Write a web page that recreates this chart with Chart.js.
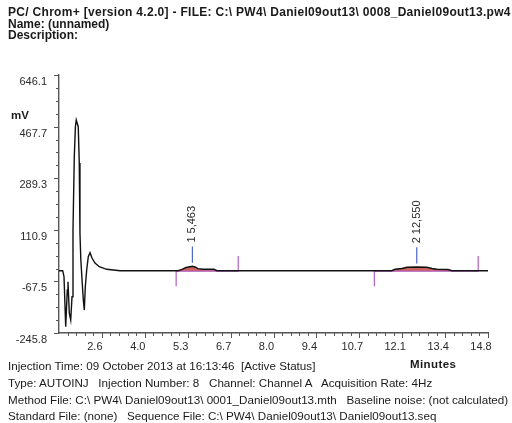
<!DOCTYPE html>
<html>
<head>
<meta charset="utf-8">
<script src="https://cdn.jsdelivr.net/npm/chart.js@4.4.1/dist/chart.umd.min.js"></script>
<style>
  html, body { margin: 0; padding: 0; background: #fff; }
  #wrap { position: relative; width: 512px; height: 423px; overflow: hidden;
          font-family: "Liberation Sans", Arial, sans-serif; color: #1a1a1a; }
  #chart { position: absolute; left: 0; top: 0; }
  .t { position: absolute; white-space: pre; font-size: 11.65px; line-height: 13px; }
  .b { font-weight: bold; }
  .h { font-size: 12px; line-height: 13px; }
</style>
</head>
<body>
<div id="wrap">
  <canvas id="chart" width="512" height="423"></canvas>
  <div class="t b h" style="left:8px;top:6px;letter-spacing:0.3px;">PC/ Chrom+ [version 4.2.0] - FILE: C:\ PW4\ Daniel09out13\ 0008_Daniel09out13.pw4</div>
  <div class="t b h" style="left:8px;top:18px;">Name: (unnamed)</div>
  <div class="t b h" style="left:8px;top:29px;">Description:</div>
  <div class="t b" style="left:11px;top:109px;font-size:11.5px;">mV</div>
  <div class="t b" style="left:410px;top:358px;font-size:11.5px;letter-spacing:0.4px;">Minutes</div>
  <div class="t" style="left:8px;top:359px;">Injection Time: 09 October 2013 at 16:13:46  [Active Status]</div>
  <div class="t" style="left:8px;top:376px;">Type: AUTOINJ   Injection Number: 8   Channel: Channel A   Acquisition Rate: 4Hz</div>
  <div class="t" style="left:8px;top:393px;">Method File: C:\ PW4\ Daniel09out13\ 0001_Daniel09out13.mth   Baseline noise: (not calculated)</div>
  <div class="t" style="left:8px;top:409px;">Standard File: (none)   Sequence File: C:\ PW4\ Daniel09out13\ Daniel09out13.seq</div>
</div>
<script>
// Detector trace, channel A (time in minutes, signal in mV)
const timeMin = [1.25, 1.367, 1.408, 1.462, 1.512, 1.534, 1.575, 1.62, 1.661, 1.692,
                 1.733, 1.768, 1.795, 1.825, 1.858, 1.89, 1.912, 1.94, 1.978, 2.018,
                 2.049, 2.081, 2.125, 2.175, 2.229, 2.292, 2.387, 2.523, 2.757, 3.177,
                 5.009, 5.135, 5.261, 5.388, 5.463, 5.546, 5.64, 5.798, 6.146, 6.24,
                 11.758, 11.863, 12.084, 12.242, 12.55, 12.864, 13.031, 13.189, 13.537, 13.663,
                 14.8];
const signalMv = [-30.4, -30.4, -51.2, -224, -97.1, -68.5, -176.7, -200.9, -120.3, 110.3,
                  363.7, 467.4, 490.5, 479.1, 467.4, 341.9, 99.9, 6.6, -62.6, -131.7,
                  -166.3, -85.7, -28, 18, 31.8, 13.5, -3.8, -16.6, -25.6, -30.4,
                  -30.4, -26, -19.4, -16.6, -15.2, -17.6, -23.5, -25.6, -25.6, -30.4,
                  -30.4, -25.6, -22.8, -18.7, -17.6, -18.7, -22.8, -25.6, -26.3, -30.4,
                  -30.4];

// Integrated peaks
const peakNumbers   = ['1', '2'];
const retentionMin  = [5.463, 12.550];
const retentionText = ['5,463', '12,550'];
const peakStartMin  = [4.95, 11.21];
const peakEndMin    = [6.91, 14.49];
const peakBaseMv    = [-32, -32];

// Axis ranges and labels
const xRange = [1.25, 14.8];
const yRange = [-245.8, 646.1];
const xTickLabels = ['2.6', '4.0', '5.3', '6.7', '8.0', '9.4', '10.7', '12.1', '13.4', '14.8'];
const yTickLabels = ['-245.8', '-67.5', '110.9', '289.3', '467.7', '646.1'];

const X_SUB = 5, Y_SUB = 4;          // minor subdivisions per major interval
const EVENT_TICK = 52;               // length of integration event ticks (mV)
const MARK_GAP = 12, MARK_LEN = 56;  // retention marker offset/length above apex (mV)

const trace = timeMin.map((t, i) => ({ x: t, y: signalMv[i] }));

function buildTicks(range, nMajor, nSub) {
  const step = (range[1] - range[0]) / nMajor / nSub;
  const out = [];
  for (let j = 0; j <= nMajor * nSub; j++) {
    out.push({ value: range[0] + j * step, major: j % nSub === 0, idx: j / nSub });
  }
  return out;
}
const xTicks = buildTicks(xRange, xTickLabels.length, X_SUB).filter(t => t.value > xRange[0] + 1e-9);
const yTicks = buildTicks(yRange, yTickLabels.length - 1, Y_SUB);

const datasets = [{
  label: 'Channel A',
  data: trace,
  showLine: true,
  borderColor: '#111',
  borderWidth: 1.4,
  pointRadius: 0,
  tension: 0,
  order: 0
}];

peakNumbers.forEach((n, p) => {
  // area between the trace and the peak baseline
  datasets.push({
    label: 'area ' + n,
    data: trace.filter(d => d.x >= peakStartMin[p] && d.x <= peakEndMin[p]),
    showLine: true,
    borderWidth: 0,
    borderColor: 'rgba(0,0,0,0)',
    backgroundColor: 'rgba(196,72,60,0.85)',
    fill: { value: peakBaseMv[p] },
    pointRadius: 0,
    order: 3
  });
  // integration baseline with start/end event ticks
  datasets.push({
    label: 'baseline ' + n,
    data: [
      { x: peakStartMin[p], y: peakBaseMv[p] - EVENT_TICK },
      { x: peakStartMin[p], y: peakBaseMv[p] },
      { x: peakEndMin[p],   y: peakBaseMv[p] },
      { x: peakEndMin[p],   y: peakBaseMv[p] + EVENT_TICK }
    ],
    showLine: true,
    borderColor: '#b35ec2',
    borderWidth: 1.2,
    pointRadius: 0,
    order: 2
  });
  // retention time marker
  const apex = signalMv[timeMin.indexOf(retentionMin[p])];
  datasets.push({
    label: 'marker ' + n,
    data: [
      { x: retentionMin[p], y: apex + MARK_GAP },
      { x: retentionMin[p], y: apex + MARK_GAP + MARK_LEN }
    ],
    showLine: true,
    borderColor: '#4a66c8',
    borderWidth: 1.2,
    pointRadius: 0,
    order: 1
  });
});

const font = { family: '"Liberation Sans", Arial, sans-serif', size: 11 };

// Tick marks (major longer than minor) and rotated peak labels
const decorations = {
  id: 'decorations',
  afterDraw(chart) {
    const { ctx, chartArea, scales } = chart;
    ctx.save();
    ctx.strokeStyle = '#555';
    ctx.lineWidth = 1;
    ctx.beginPath();
    xTicks.forEach(t => {
      const px = Math.round(scales.x.getPixelForValue(t.value)) + 0.5;
      const len = t.major ? 5 : 3;
      ctx.moveTo(px, chartArea.bottom);
      ctx.lineTo(px, chartArea.bottom + len);
    });
    yTicks.forEach(t => {
      const py = Math.round(scales.y.getPixelForValue(t.value)) + 0.5;
      const len = t.major ? 5 : 3;
      ctx.moveTo(chartArea.left, py);
      ctx.lineTo(chartArea.left - len, py);
    });
    ctx.stroke();

    ctx.fillStyle = '#2a2a2a';
    ctx.font = `${font.size}px ${font.family}`;
    ctx.textAlign = 'left';
    ctx.textBaseline = 'middle';
    peakNumbers.forEach((n, p) => {
      const apex = signalMv[timeMin.indexOf(retentionMin[p])];
      const px = scales.x.getPixelForValue(retentionMin[p]);
      const py = scales.y.getPixelForValue(apex + MARK_GAP + MARK_LEN) - 4;
      ctx.save();
      ctx.translate(px, py);
      ctx.rotate(-Math.PI / 2);
      ctx.fillText(n + ' ' + retentionText[p], 0, 0);
      ctx.restore();
    });
    ctx.restore();
  }
};

new Chart(document.getElementById('chart'), {
  type: 'scatter',
  data: { datasets },
  options: {
    responsive: false,
    animation: false,
    devicePixelRatio: 1,
    layout: { padding: { top: 75, right: 24, left: 0, bottom: 0 } },
    plugins: { legend: { display: false }, tooltip: { enabled: false } },
    scales: {
      x: {
        type: 'linear',
        min: xRange[0], max: xRange[1],
        afterBuildTicks: s => { s.ticks = xTicks.map(t => ({ value: t.value })); },
        afterFit: s => { s.height = 90; },
        grid: { display: false, drawTicks: true, tickLength: 5 },
        border: { display: true, color: '#555', width: 1.4 },
        ticks: {
          autoSkip: false, maxRotation: 0, padding: 2, labelOffset: -7,
          color: '#2a2a2a', font,
          callback: (v, i) => xTicks[i].major ? xTickLabels[xTicks[i].idx - 1] : ''
        }
      },
      y: {
        type: 'linear',
        min: yRange[0], max: yRange[1],
        afterBuildTicks: s => { s.ticks = yTicks.map(t => ({ value: t.value })); },
        afterFit: s => { s.width = 59; },
        grid: { display: false, drawTicks: true, tickLength: 5 },
        border: { display: true, color: '#555', width: 1.4 },
        ticks: {
          autoSkip: false, padding: 7, labelOffset: 7,
          color: '#2a2a2a', font,
          callback: (v, i) => yTicks[i].major ? yTickLabels[yTicks[i].idx] : ''
        }
      }
    }
  },
  plugins: [decorations]
});
</script>
</body>
</html>
